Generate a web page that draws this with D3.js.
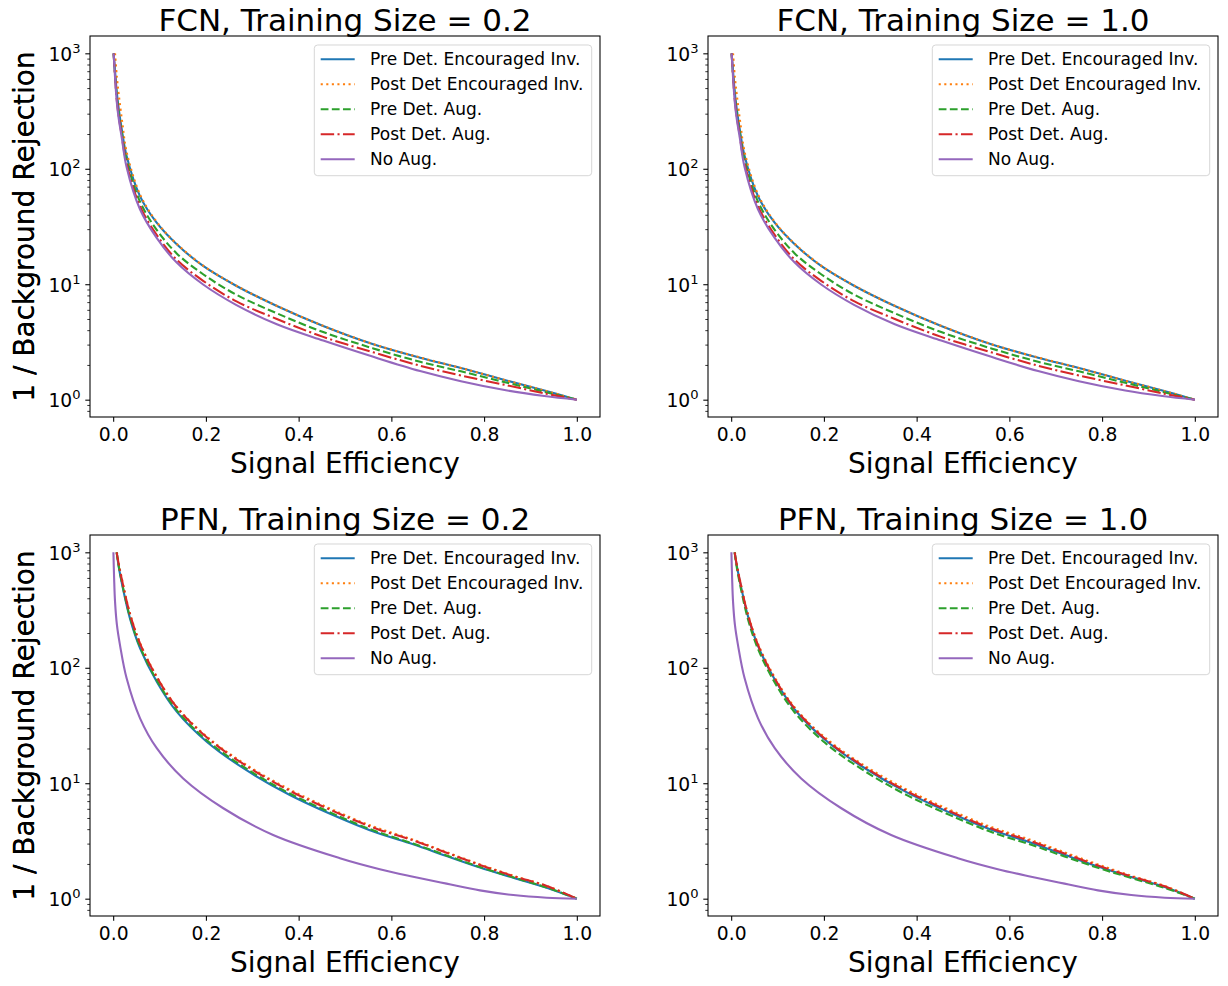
<!DOCTYPE html>
<html><head><meta charset="utf-8">
<script src="https://cdn.jsdelivr.net/npm/d3@7"></script>
<style>body{margin:0;background:#fff} svg{display:block} text{font-family:"DejaVu Sans",sans-serif;fill:#000}</style>
</head><body>
<svg id="c" width="1228" height="986"></svg>
<script>
const seriesNames = ["Pre Det. Encouraged Inv.","Post Det Encouraged Inv.","Pre Det. Aug.","Post Det. Aug.","No Aug."];
const seriesColors = ["#1f77b4","#ff7f0e","#2ca02c","#d62728","#9467bd"];
const panelTitles = ["FCN, Training Size = 0.2","FCN, Training Size = 1.0","PFN, Training Size = 0.2","PFN, Training Size = 1.0"];
const xTickValues = [0,0.2,0.4,0.6,0.8,1.0];
const xTickLabels = ["0.0","0.2","0.4","0.6","0.8","1.0"];
const yTickValues = [1,10,100,1000];
const yTickExponents = ["0","1","2","3"];
const xLabel = "Signal Efficiency";
const yLabel = "1 / Background Rejection";

// FCN, training size 0.2  [signal efficiency, 1/background efficiency]
const fcn02_preInv = [[0.001,1000],[0.004,700],[0.008,450],[0.012,330],[0.018,226],[0.029,129],[0.0578,58],[0.0938,34.1],[0.137,22.2],[0.194,14.4],[0.266,9.66],[0.353,6.48],[0.453,4.35],[0.561,3.02],[0.662,2.31],[0.75,1.88],[0.85,1.46],[0.93,1.2],[1,1]];
const fcn02_postInv = [[0.004,1000],[0.008,620],[0.012,440],[0.02,245],[0.029,140],[0.0578,60],[0.0938,34.6],[0.137,22.4],[0.194,14.5],[0.266,9.7],[0.353,6.5],[0.453,4.36],[0.561,3.03],[0.662,2.32],[0.75,1.88],[0.85,1.46],[0.93,1.2],[1,1]];
const fcn02_preAug = [[0.001,1000],[0.004,650],[0.008,410],[0.012,300],[0.018,210],[0.029,118],[0.0578,52],[0.0938,29.6],[0.137,18.5],[0.194,12.2],[0.266,8.1],[0.353,5.6],[0.453,3.85],[0.561,2.78],[0.662,2.13],[0.75,1.76],[0.85,1.4],[0.93,1.17],[1,1]];
const fcn02_postAug = [[0.001,1000],[0.004,630],[0.008,390],[0.012,285],[0.018,200],[0.029,110],[0.0578,47.5],[0.0938,26.8],[0.137,16.3],[0.194,10.7],[0.266,7.1],[0.353,5.0],[0.453,3.5],[0.561,2.57],[0.662,1.97],[0.75,1.62],[0.85,1.33],[0.93,1.135],[1,1]];
const fcn02_noAug = [[0.001,1000],[0.004,620],[0.008,370],[0.012,270],[0.018,192],[0.029,103],[0.0578,44.6],[0.0938,25.2],[0.137,15.4],[0.194,9.95],[0.266,6.6],[0.353,4.5],[0.453,3.25],[0.561,2.35],[0.662,1.77],[0.75,1.445],[0.85,1.2],[0.93,1.076],[1,1]];

// FCN, training size 1.0
const fcn10_preInv = [[0.001,1000],[0.004,700],[0.008,450],[0.012,330],[0.018,226],[0.029,129],[0.0578,58],[0.0938,34.1],[0.137,22.2],[0.194,14.4],[0.266,9.66],[0.353,6.48],[0.453,4.35],[0.561,3.02],[0.662,2.31],[0.75,1.88],[0.85,1.46],[0.93,1.2],[1,1]];
const fcn10_postInv = [[0.004,1000],[0.008,620],[0.012,440],[0.02,245],[0.029,140],[0.0578,60],[0.0938,34.6],[0.137,22.4],[0.194,14.5],[0.266,9.7],[0.353,6.5],[0.453,4.36],[0.561,3.03],[0.662,2.32],[0.75,1.88],[0.85,1.46],[0.93,1.2],[1,1]];
const fcn10_preAug = [[0.001,1000],[0.004,650],[0.008,410],[0.012,300],[0.018,210],[0.029,118],[0.0578,52],[0.0938,29.6],[0.137,18.5],[0.194,12.2],[0.266,8.1],[0.353,5.6],[0.453,3.85],[0.561,2.78],[0.662,2.13],[0.75,1.76],[0.85,1.4],[0.93,1.17],[1,1]];
const fcn10_postAug = [[0.001,1000],[0.004,630],[0.008,390],[0.012,285],[0.018,200],[0.029,110],[0.0578,47.5],[0.0938,26.8],[0.137,16.3],[0.194,10.7],[0.266,7.1],[0.353,5.0],[0.453,3.5],[0.561,2.57],[0.662,1.97],[0.75,1.62],[0.85,1.33],[0.93,1.135],[1,1]];
const fcn10_noAug = [[0.001,1000],[0.004,620],[0.008,370],[0.012,270],[0.018,192],[0.029,103],[0.0578,44.6],[0.0938,25.2],[0.137,15.4],[0.194,9.95],[0.266,6.6],[0.353,4.5],[0.453,3.25],[0.561,2.35],[0.662,1.77],[0.75,1.445],[0.85,1.2],[0.93,1.076],[1,1]];

// PFN, training size 0.2
const pfn02_preInv = [[0.0075,1000],[0.012,750],[0.018,557],[0.0362,268],[0.058,147.6],[0.094,75.8],[0.137,41.7],[0.2017,22.9],[0.2806,13.5],[0.381,7.91],[0.525,4.35],[0.575,3.65],[0.647,2.96],[0.719,2.34],[0.791,1.86],[0.863,1.52],[0.935,1.245],[1,1]];
const pfn02_postInv = [[0.008,1000],[0.012,800],[0.018,610],[0.0362,296],[0.058,164],[0.094,84],[0.137,46],[0.2017,25.4],[0.2806,15],[0.381,8.8],[0.525,4.8],[0.575,4.03],[0.647,3.24],[0.719,2.53],[0.791,1.98],[0.863,1.58],[0.935,1.29],[1,1]];
const pfn02_preAug = [[0.0075,1000],[0.012,760],[0.018,570],[0.0362,276],[0.058,152],[0.094,78],[0.137,43],[0.2017,23.6],[0.2806,13.9],[0.381,8.15],[0.525,4.45],[0.575,3.73],[0.647,3.0],[0.719,2.37],[0.791,1.88],[0.863,1.53],[0.935,1.25],[1,1]];
const pfn02_postAug = [[0.0075,1000],[0.012,790],[0.018,600],[0.0362,292],[0.058,162],[0.094,83],[0.137,45.5],[0.2017,25],[0.2806,14.7],[0.381,8.6],[0.525,4.7],[0.575,3.94],[0.647,3.2],[0.719,2.5],[0.791,1.96],[0.863,1.57],[0.935,1.29],[1,1]];
const pfn02_noAug = [[0.0005,1000],[0.002,600],[0.004,374],[0.008,236],[0.0147,157],[0.029,81],[0.058,36.5],[0.094,20.1],[0.151,11.0],[0.2375,6.07],[0.345,3.56],[0.489,2.24],[0.575,1.80],[0.647,1.55],[0.719,1.35],[0.791,1.18],[0.863,1.075],[0.935,1.02],[1,1]];

// PFN, training size 1.0
const pfn10_preInv = [[0.0075,1000],[0.012,770],[0.018,580],[0.0362,280],[0.058,154],[0.094,79],[0.137,43.5],[0.2017,23.9],[0.2806,14.1],[0.381,8.25],[0.525,4.5],[0.575,3.78],[0.647,3.05],[0.719,2.4],[0.791,1.9],[0.863,1.54],[0.935,1.26],[1,1]];
const pfn10_postInv = [[0.008,1000],[0.012,790],[0.018,600],[0.0362,292],[0.058,161],[0.094,82.5],[0.137,45.3],[0.2017,25],[0.2806,14.8],[0.381,8.7],[0.525,4.75],[0.575,3.99],[0.647,3.22],[0.719,2.52],[0.791,1.98],[0.863,1.58],[0.935,1.29],[1,1]];
const pfn10_preAug = [[0.0075,1000],[0.012,745],[0.018,552],[0.0362,264],[0.058,145],[0.094,74.5],[0.137,41],[0.2017,22.5],[0.2806,13.3],[0.381,7.8],[0.525,4.3],[0.575,3.61],[0.647,2.93],[0.719,2.32],[0.791,1.85],[0.863,1.51],[0.935,1.24],[1,1]];
const pfn10_postAug = [[0.0075,1000],[0.012,780],[0.018,590],[0.0362,286],[0.058,157],[0.094,80.5],[0.137,44.3],[0.2017,24.4],[0.2806,14.4],[0.381,8.45],[0.525,4.62],[0.575,3.88],[0.647,3.14],[0.719,2.46],[0.791,1.94],[0.863,1.56],[0.935,1.28],[1,1]];
const pfn10_noAug = [[0.0005,1000],[0.002,600],[0.004,374],[0.008,236],[0.0147,157],[0.029,81],[0.058,36.5],[0.094,20.1],[0.151,11.0],[0.2375,6.07],[0.345,3.56],[0.489,2.24],[0.575,1.80],[0.647,1.55],[0.719,1.35],[0.791,1.18],[0.863,1.075],[0.935,1.02],[1,1]];

const panelSeries = [
  [fcn02_preInv, fcn02_postInv, fcn02_preAug, fcn02_postAug, fcn02_noAug],
  [fcn10_preInv, fcn10_postInv, fcn10_preAug, fcn10_postAug, fcn10_noAug],
  [pfn02_preInv, pfn02_postInv, pfn02_preAug, pfn02_postAug, pfn02_noAug],
  [pfn10_preInv, pfn10_postInv, pfn10_preAug, pfn10_postAug, pfn10_noAug]
];

// ---- layout / style ----
const LW = 2.1;
const dashes = [null, [1*LW,1.65*LW], [3.7*LW,1.6*LW], [6.4*LW,1.6*LW,1*LW,1.6*LW], null];
const panelPos = [[90,36],[708,36],[90,535],[708,535]];
const W = 510, H = 381;
const svg = d3.select("#c");

const minorVals = [];
[0.1,1,10,100].forEach(d => { for (let k=2;k<=9;k++) minorVals.push(d*k); });

panelPos.forEach((pos, pi) => {
  const [L, T] = pos;
  const g = svg.append("g").attr("transform", `translate(${L},${T})`);
  const x = d3.scaleLinear().domain([-0.05, 1.05]).range([0, W]);
  const y = d3.scaleLog().domain([Math.pow(10,-0.15), Math.pow(10,3.15)]).range([H, 0]);

  const cid = "clip" + pi;
  g.append("clipPath").attr("id", cid).append("rect").attr("width", W).attr("height", H);

  const line = d3.line().x(d => x(d[0])).y(d => y(d[1])).curve(d3.curveCatmullRom.alpha(0.5));
  const cg = g.append("g").attr("clip-path", `url(#${cid})`);
  panelSeries[pi].forEach((s, si) => {
    const p = cg.append("path").datum(s).attr("d", line)
      .attr("fill","none").attr("stroke", seriesColors[si]).attr("stroke-width", LW)
      .attr("stroke-linejoin","round");
    if (dashes[si]) p.attr("stroke-dasharray", dashes[si].join(","));
  });

  // x axis
  const xa = g.append("g").attr("transform", `translate(0,${H})`)
    .call(d3.axisBottom(x).tickValues(xTickValues).tickSize(4.7).tickFormat((d,i)=>xTickLabels[i]));
  xa.select(".domain").remove();
  xa.selectAll("line").attr("stroke","#000").attr("stroke-width",1.07);
  xa.selectAll("text").attr("y", 24).attr("dy", null).style("font-size","18.7px").attr("fill","#000");

  // y minor
  const ym = g.append("g").call(d3.axisLeft(y).tickValues(minorVals.filter(v => v>y.domain()[0] && v<y.domain()[1])).tickSize(2.7).tickFormat(""));
  ym.select(".domain").remove();
  ym.selectAll("line").attr("stroke","#000").attr("stroke-width",0.8);

  // y major
  const ya = g.append("g").call(d3.axisLeft(y).tickValues(yTickValues).tickSize(4.7).tickPadding(4.7).tickFormat(""));
  ya.select(".domain").remove();
  ya.selectAll("line").attr("stroke","#000").attr("stroke-width",1.07);
  ya.selectAll("text").each(function(d,i){
    const t = d3.select(this);
    t.attr("dy","7px").style("font-size","18.7px").attr("fill","#000");
    t.append("tspan").text("10");
    t.append("tspan").attr("dy","-8px").style("font-size","13.1px").text(yTickExponents[i]);
  });

  // spines
  g.append("rect").attr("width", W).attr("height", H).attr("fill","none")
    .attr("stroke","#000").attr("stroke-width",1.07);

  // labels
  g.append("text").attr("x", W/2).attr("y", -5).attr("text-anchor","middle")
    .style("font-size","31px").text(panelTitles[pi]);
  g.append("text").attr("x", W/2).attr("y", 437).attr("text-anchor","middle")
    .style("font-size","28px").text(xLabel);
  g.append("text").attr("transform", `translate(${34-L},${H/2}) rotate(-90)`).attr("text-anchor","middle")
    .style("font-size","28px").text(yLabel);

  // legend
  const lg = g.append("g").attr("transform", "translate(224.3,9)");
  lg.append("rect").attr("width", 277.4).attr("height", 130.7).attr("rx", 3.4)
    .attr("fill","#fff").attr("fill-opacity",0.8).attr("stroke","#cccccc").attr("stroke-opacity",0.8).attr("stroke-width",1);
  seriesNames.forEach((nm, si) => {
    const cy = 14.3 + 25*si;
    const l = lg.append("line").attr("x1", 6.4).attr("x2", 40.4).attr("y1", cy).attr("y2", cy)
      .attr("stroke", seriesColors[si]).attr("stroke-width", LW);
    if (dashes[si]) l.attr("stroke-dasharray", dashes[si].join(","));
    lg.append("text").attr("x", 55.8).attr("y", cy + 6).style("font-size","17px").text(nm);
  });
});
</script>
</body></html>
